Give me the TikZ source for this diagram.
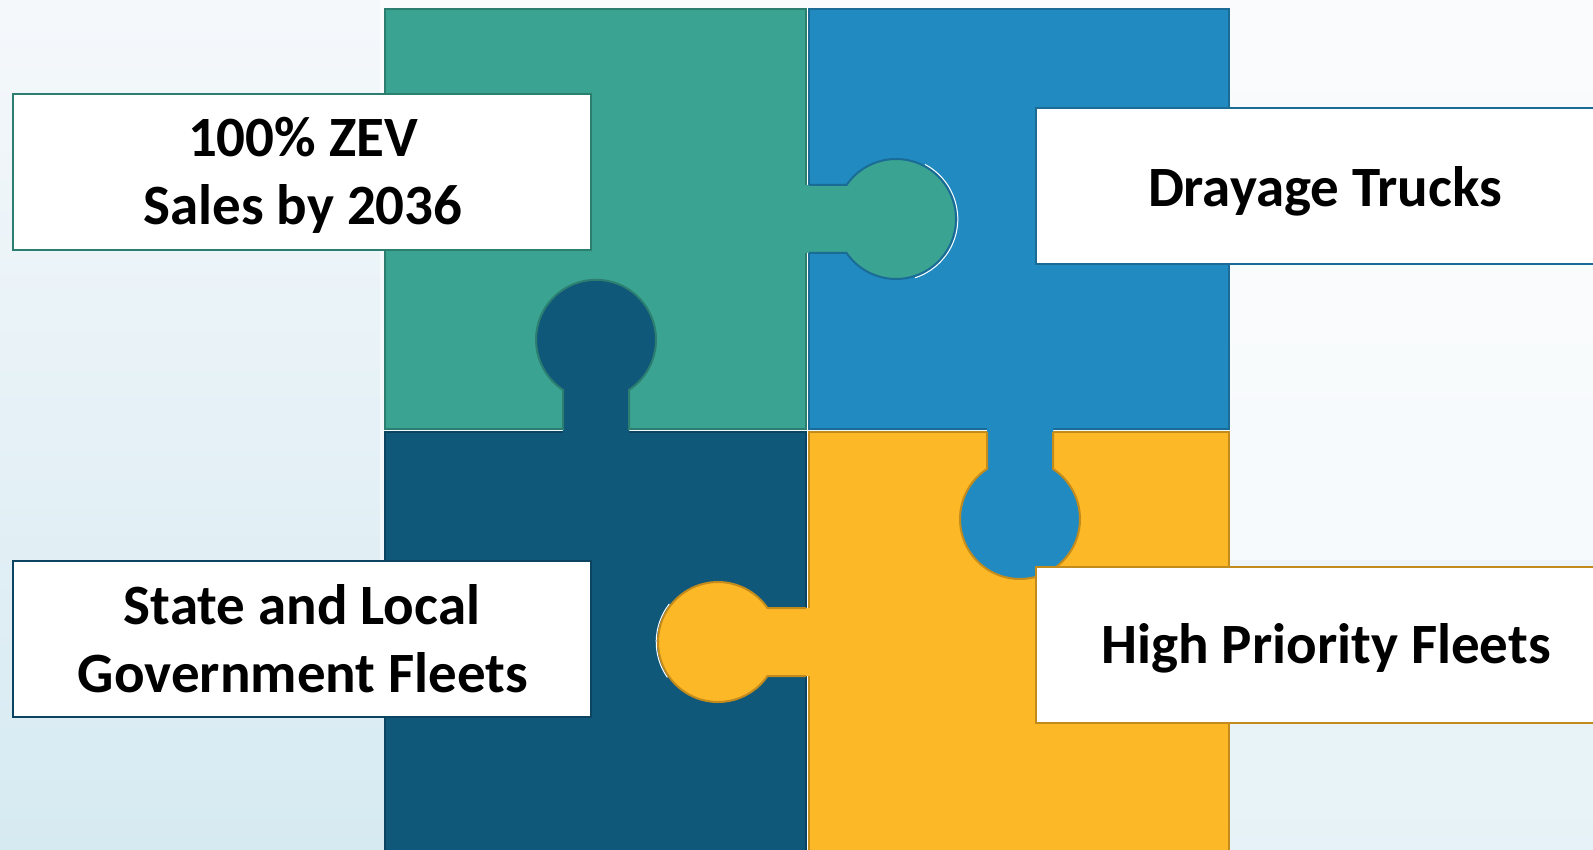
\documentclass[tikz,border=0pt]{standalone}
\usepackage{fontspec}
\setmainfont{Carlito}
\definecolor{tealF}{HTML}{3AA391}
\definecolor{tealD}{HTML}{2C7F70}
\definecolor{blueF}{HTML}{218AC0}
\definecolor{blueD}{HTML}{1A6B95}
\definecolor{darkF}{HTML}{10587A}
\definecolor{darkD}{HTML}{0B4460}
\definecolor{yelF}{HTML}{FDB827}
\definecolor{yelD}{HTML}{C38B1C}
\definecolor{bgTop}{HTML}{F5F8FB}
\definecolor{bgBot}{HTML}{D6EAF2}
\begin{document}
\begin{tikzpicture}[x=1pt,y=-1pt,
  piece/.style={line width=2pt},
  taboutline/.style={line width=2pt},
  lblbox/.style={draw, fill=white, line width=2pt, minimum width=578pt, minimum height=156pt, inner sep=0pt},
  lbl/.style={font=\bfseries\fontsize{57}{68}\selectfont, inner sep=0pt, anchor=base}]
\useasboundingbox (0,0) rectangle (1593,850);
\clip (0,0) rectangle (1593,850);
% background
\shade[top color=bgTop, bottom color=bgBot] (0,0) rectangle (1593,850);
\fill[white, opacity=0.55] (380,0) rectangle (1593,560);
\shade[left color=white, right color=white, middle color=white, opacity=0.4] (1230,250) rectangle (1593,850);
% pieces (rectangles)
\filldraw[piece, fill=blueF, draw=blueD] (809,9) rectangle (1229,429);
\filldraw[piece, fill=tealF, draw=tealD] (385,9) rectangle (806,429);
\filldraw[piece, fill=darkF, draw=darkD] (385,432) rectangle (806,852);
\filldraw[piece, fill=yelF, draw=yelD] (809,432) rectangle (1229,852);
\draw[white, line width=1.2pt] (807.5,8) -- (807.5,850);
% tab 1: teal into blue
\fill[tealF] (805,185) -- (846.56,185) arc[start angle=214.5, end angle=505.5, radius=60] -- (805,253) -- cycle;
\draw[taboutline, blueD] (809,185) -- (846.56,185) arc[start angle=214.5, end angle=505.5, radius=60] -- (809,253);
\draw[white, line width=1pt] (896,219) ++(-62:61.8) arc[start angle=-62, end angle=72, radius=61.8];
% tab 2: dark into teal
\fill[darkF] (563,433) -- (563,389.9) arc[start angle=123.37, end angle=416.63, radius=60] -- (629,433) -- cycle;
\draw[taboutline, tealD] (563,430) -- (563,389.9) arc[start angle=123.37, end angle=416.63, radius=60] -- (629,430);
% tab 3: yellow into dark
\fill[yelF] (810,676) -- (767.44,676) arc[start angle=34.5, end angle=325.5, radius=60] -- (810,608) -- cycle;
\draw[taboutline, yelD] (806,676) -- (767.44,676) arc[start angle=34.5, end angle=325.5, radius=60] -- (806,608);
\draw[white, line width=1pt] (718,642) ++(145:61.8) arc[start angle=145, end angle=218, radius=61.8];
% tab 4: blue into yellow
\fill[blueF] (1053,428) -- (1053,468.9) arc[start angle=-56.63, end angle=236.63, radius=60] -- (987,428) -- cycle;
\draw[taboutline, yelD] (1053,432) -- (1053,468.9) arc[start angle=-56.63, end angle=236.63, radius=60] -- (987,432);
% label boxes
\node[lblbox, draw=tealD] (b1) at (302,172) {};
\node[lblbox, draw=blueD] (b2) at (1325,186.5) {};
\node[lblbox, draw=darkD] (b3) at (302,639) {};
\node[lblbox, draw=yelD] (b4) at (1325,645) {};
% texts
\node[lbl] (t1a) at (303,157) {100\% ZEV};
\node[lbl] (t1b) at (303,225) {Sales by 2036};
\node[lbl] (t2) at (1325,207) {Drayage Trucks};
\node[lbl] (t3a) at (302,624) {State and Local};
\node[lbl] (t3b) at (303,692) {Government Fleets};
\node[lbl] (t4) at (1326,663) {High Priority Fleets};
\end{tikzpicture}
\end{document}
